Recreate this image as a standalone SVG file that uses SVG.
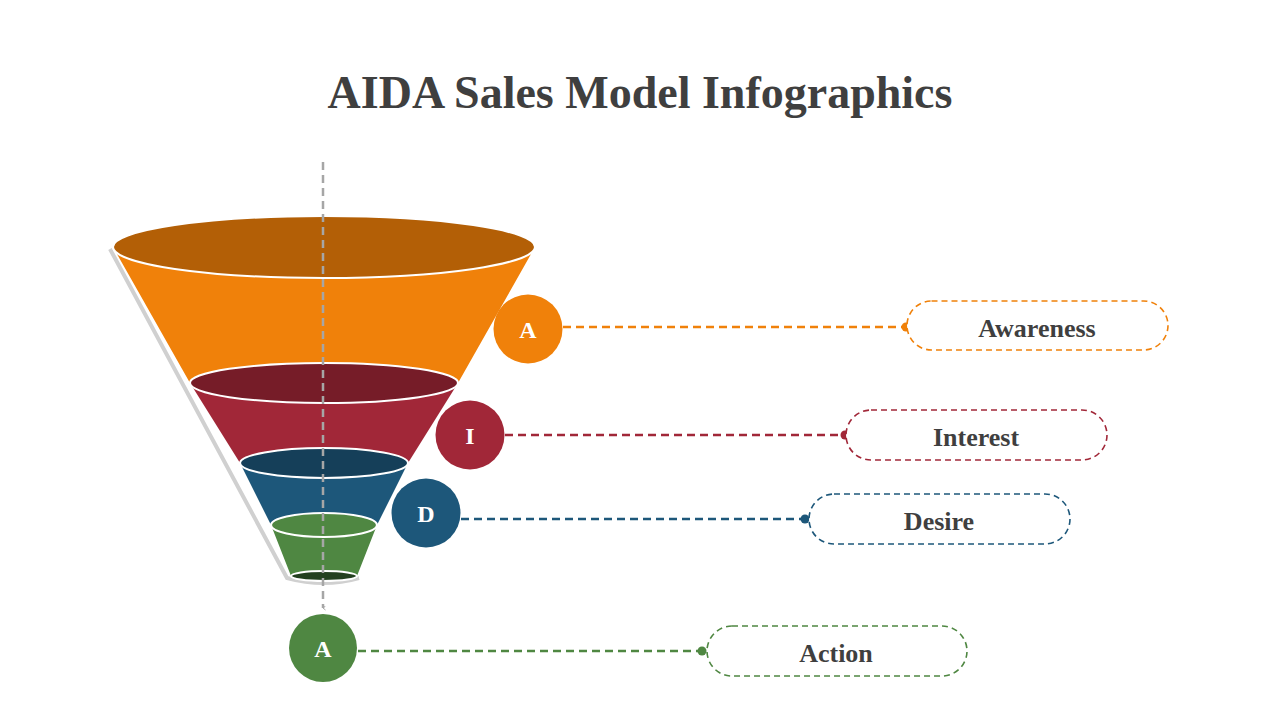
<svg xmlns="http://www.w3.org/2000/svg" width="1280" height="720" viewBox="0 0 1280 720">
<defs>
<style>
.t{font-family:"Liberation Serif","DejaVu Serif",serif;font-weight:bold;fill:#3f3f3f;text-anchor:middle}
.c{font-family:"Liberation Serif","DejaVu Serif",serif;font-weight:bold;fill:#fff;text-anchor:middle;font-size:24px}
.rim{stroke:#fff;stroke-width:2}
.dl{stroke-width:2.5;stroke-dasharray:8 5;fill:none}
.pill{fill:#fff;stroke-width:1.6;stroke-dasharray:6 4}
</style>
<marker id="arr" viewBox="0 0 10 10" refX="5" refY="8" markerWidth="5" markerHeight="5" orient="auto-start-reverse" markerUnits="userSpaceOnUse">
<path d="M1 3 L5 8 L9 3" fill="none" stroke="#a6a6a6" stroke-width="2"/>
</marker>
</defs>
<rect width="1280" height="720" fill="#fff"/>
<text class="t" x="640" y="108" font-size="46">AIDA Sales Model Infographics</text>
<g id="funnel">
<path d="M110 249 L287 578 Q324 588 359 578" fill="none" stroke="#d0d0d0" stroke-width="4"/>
<path d="M113 247 L190 383 A134 20 0 0 0 458 383 L535 247 Z" fill="#f0810a"/>
<ellipse cx="324" cy="247" rx="211" ry="31" fill="#b35f06" class="rim"/>
<path d="M190 383 L240 463 A84 15 0 0 0 408 463 L458 383 Z" fill="#a12738"/>
<ellipse cx="324" cy="383" rx="134" ry="20" fill="#761c28" class="rim"/>
<path d="M240 463 L271 525 A53 12 0 0 0 377 525 L408 463 Z" fill="#1d577a"/>
<ellipse cx="324" cy="463" rx="84" ry="15" fill="#153f59" class="rim"/>
<path d="M271 525 L291 576 A33 5 0 0 0 357 576 L377 525 Z" fill="#4f8742"/>
<ellipse cx="324" cy="525" rx="53" ry="12" fill="#4f8742" class="rim"/>
<ellipse cx="324" cy="576" rx="33" ry="5" fill="#23401f" class="rim"/>
</g>
<g id="connectors">
<line x1="323" y1="162" x2="323" y2="608" stroke="#a6a6a6" stroke-width="2.5" stroke-dasharray="8 5" marker-end="url(#arr)"/>
<line class="dl" x1="563" y1="327" x2="906" y2="327" stroke="#f0810a"/><circle cx="906" cy="327" r="4.5" fill="#f0810a"/>
<line class="dl" x1="505" y1="435" x2="845" y2="435" stroke="#a12738"/><circle cx="845" cy="435" r="4.5" fill="#a12738"/>
<line class="dl" x1="461" y1="519" x2="805" y2="519" stroke="#1d577a"/><circle cx="805" cy="519" r="4.5" fill="#1d577a"/>
<line class="dl" x1="358" y1="651" x2="702" y2="651" stroke="#4f8742"/><circle cx="702" cy="651" r="4.5" fill="#4f8742"/>
</g>
<g id="awareness">
<circle cx="528" cy="329" r="34.5" fill="#f0810a"/><text class="c" x="528" y="338">A</text>
<rect class="pill" x="907" y="301" width="261" height="49" rx="24.5" stroke="#f0810a"/>
<text class="t" x="1037" y="337" font-size="26">Awareness</text>
</g>
<g id="interest">
<circle cx="470" cy="435" r="34.5" fill="#a12738"/><text class="c" x="470" y="444">I</text>
<rect class="pill" x="846" y="410" width="261" height="50" rx="25" stroke="#a12738"/>
<text class="t" x="976" y="446" font-size="26">Interest</text>
</g>
<g id="desire">
<circle cx="426" cy="513" r="34.5" fill="#1d577a"/><text class="c" x="426" y="522">D</text>
<rect class="pill" x="809" y="494" width="261" height="50" rx="25" stroke="#1d577a"/>
<text class="t" x="939" y="530" font-size="26">Desire</text>
</g>
<g id="action">
<circle cx="323" cy="648" r="34" fill="#4f8742"/><text class="c" x="323" y="657">A</text>
<rect class="pill" x="707" y="626" width="260" height="50" rx="25" stroke="#4f8742"/>
<text class="t" x="836" y="662" font-size="26">Action</text>
</g>
</svg>
